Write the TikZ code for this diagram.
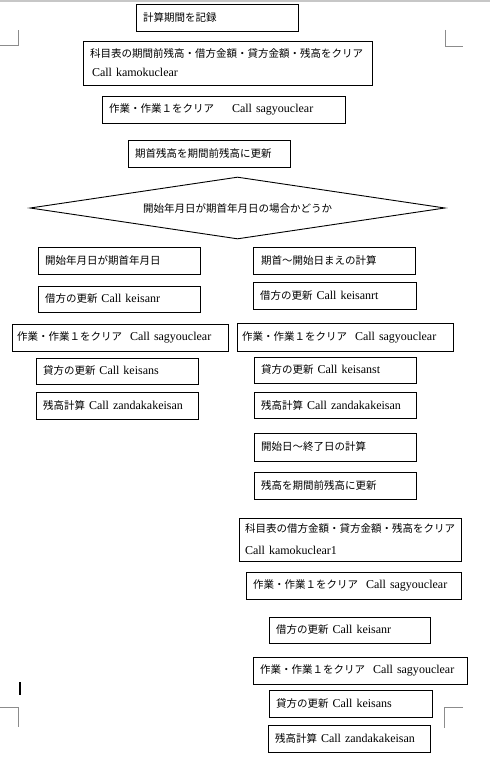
\documentclass[tikz,border=0pt]{standalone}
\usepackage{fontspec}
\setmainfont{Liberation Serif}
\newfontfamily\jp{Noto Sans CJK JP}
\usetikzlibrary{shapes.geometric}
\newcommand\J[1]{{\jp\fontsize{10.5}{13}\selectfont #1}}
\tikzset{
  box/.style={draw=black, line width=0.9pt, rectangle, inner xsep=7pt, inner ysep=2pt,
    align=left, font=\fontsize{12}{19}\selectfont},
  cornermark/.style={draw=black!45, line width=0.8pt},
}
\begin{document}
\begin{tikzpicture}[x=1pt,y=-1pt]
\fill[white] (0,0) rectangle (490,760);
\useasboundingbox (0,0) rectangle (490,760);
\fill[black!22] (0,0) rectangle (490,2);
% corner marks
\coordinate (tl1) at (0,45); \coordinate (tl2) at (18,45); \coordinate (tl3) at (18,30);
\draw[cornermark] (tl1) -- (tl2) -- (tl3);
\coordinate (tr1) at (445,30); \coordinate (tr2) at (445,46); \coordinate (tr3) at (463,46);
\draw[cornermark] (tr1) -- (tr2) -- (tr3);
\coordinate (bl1) at (0,707); \coordinate (bl2) at (18,707); \coordinate (bl3) at (18,727);
\draw[cornermark] (bl1) -- (bl2) -- (bl3);
\coordinate (br1) at (463,707); \coordinate (br2) at (444,707); \coordinate (br3) at (444,728);
\draw[cornermark] (br1) -- (br2) -- (br3);
\fill[black] (19,682) rectangle (21,695);

% top sequence
\node[box, minimum width=162pt, minimum height=27pt, text width=148pt] (rec) at (217,17.5) {\J{計算期間を記録}};
\node[box, minimum width=289pt, minimum height=44pt, text width=275pt] (kclr) at (227.5,63)
  {\J{科目表の期間前残高・借方金額・貸方金額・残高をクリア}\\\hspace*{2pt}Call kamokuclear};
\node[box, minimum width=243pt, minimum height=27pt, text width=229pt] (sclr) at (223.5,109.5)
  {\J{作業・作業１をクリア}\hspace{18pt}Call sagyouclear};
\node[box, minimum width=162pt, minimum height=27pt, text width=148pt] (upd) at (209,153.5) {\J{期首残高を期間前残高に更新}};
\node[draw=black, line width=0.9pt, diamond, aspect=6.7, minimum width=415pt, minimum height=62pt, inner sep=0pt] (dec) at (237.5,208)
  {\J{開始年月日が期首年月日の場合かどうか}};

% left column
\node[box, minimum width=162pt, minimum height=27pt, text width=148pt] (l1) at (119,260.5) {\J{開始年月日が期首年月日}};
\node[box, minimum width=162pt, minimum height=26pt, text width=148pt] (l2) at (119,299) {\J{借方の更新} Call keisanr};
\node[box, inner xsep=5pt, minimum width=216pt, minimum height=27pt, text width=206pt] (l3) at (120,337.5) {\J{作業・作業１をクリア}\hspace{8pt}Call sagyouclear};
\node[box, minimum width=162pt, minimum height=26pt, text width=148pt] (l4) at (117,371) {\J{貸方の更新} Call keisans};
\node[box, minimum width=162pt, minimum height=27pt, text width=148pt] (l5) at (117,405.5) {\J{残高計算} Call zandakakeisan};

% right column
\node[box, inner xsep=8pt, minimum width=162pt, minimum height=27pt, text width=146pt] (r1) at (334,260.5) {\J{期首～開始日まえの計算}};
\node[box, minimum width=163pt, minimum height=27pt, text width=149pt] (r2) at (334.5,295.5) {\J{借方の更新} Call keisanrt};
\node[box, inner xsep=5pt, minimum width=216pt, minimum height=28pt, text width=206pt] (r3) at (345,337) {\J{作業・作業１をクリア}\hspace{8pt}Call sagyouclear};
\node[box, minimum width=162pt, minimum height=26pt, text width=148pt] (r4) at (335,370) {\J{貸方の更新} Call keisanst};
\node[box, minimum width=162pt, minimum height=26pt, text width=148pt] (r5) at (335,405) {\J{残高計算} Call zandakakeisan};
\node[box, minimum width=162pt, minimum height=28pt, text width=148pt] (r6) at (335,447) {\J{開始日～終了日の計算}};
\node[box, minimum width=162pt, minimum height=27pt, text width=148pt] (r7) at (335,485.5) {\J{残高を期間前残高に更新}};
\node[box, inner xsep=6pt, minimum width=222pt, minimum height=43pt, text width=210pt, font=\fontsize{12}{22}\selectfont] (r8) at (350,539.5)
  {\J{科目表の借方金額・貸方金額・残高をクリア}\\Call kamokuclear1};
\node[box, minimum width=215pt, minimum height=27pt, text width=201pt] (r9) at (353.5,585.5) {\J{作業・作業１をクリア}\hspace{8pt}Call sagyouclear};
\node[box, minimum width=161pt, minimum height=26pt, text width=147pt] (r10) at (349.5,630) {\J{借方の更新} Call keisanr};
\node[box, minimum width=214pt, minimum height=27pt, text width=200pt] (r11) at (360,670.5) {\J{作業・作業１をクリア}\hspace{8pt}Call sagyouclear};
\node[box, minimum width=163pt, minimum height=27pt, text width=149pt] (r12) at (350.5,703.5) {\J{貸方の更新} Call keisans};
\node[box, minimum width=162pt, minimum height=27pt, text width=148pt] (r13) at (349,738.5) {\J{残高計算} Call zandakakeisan};
\end{tikzpicture}
\end{document}
